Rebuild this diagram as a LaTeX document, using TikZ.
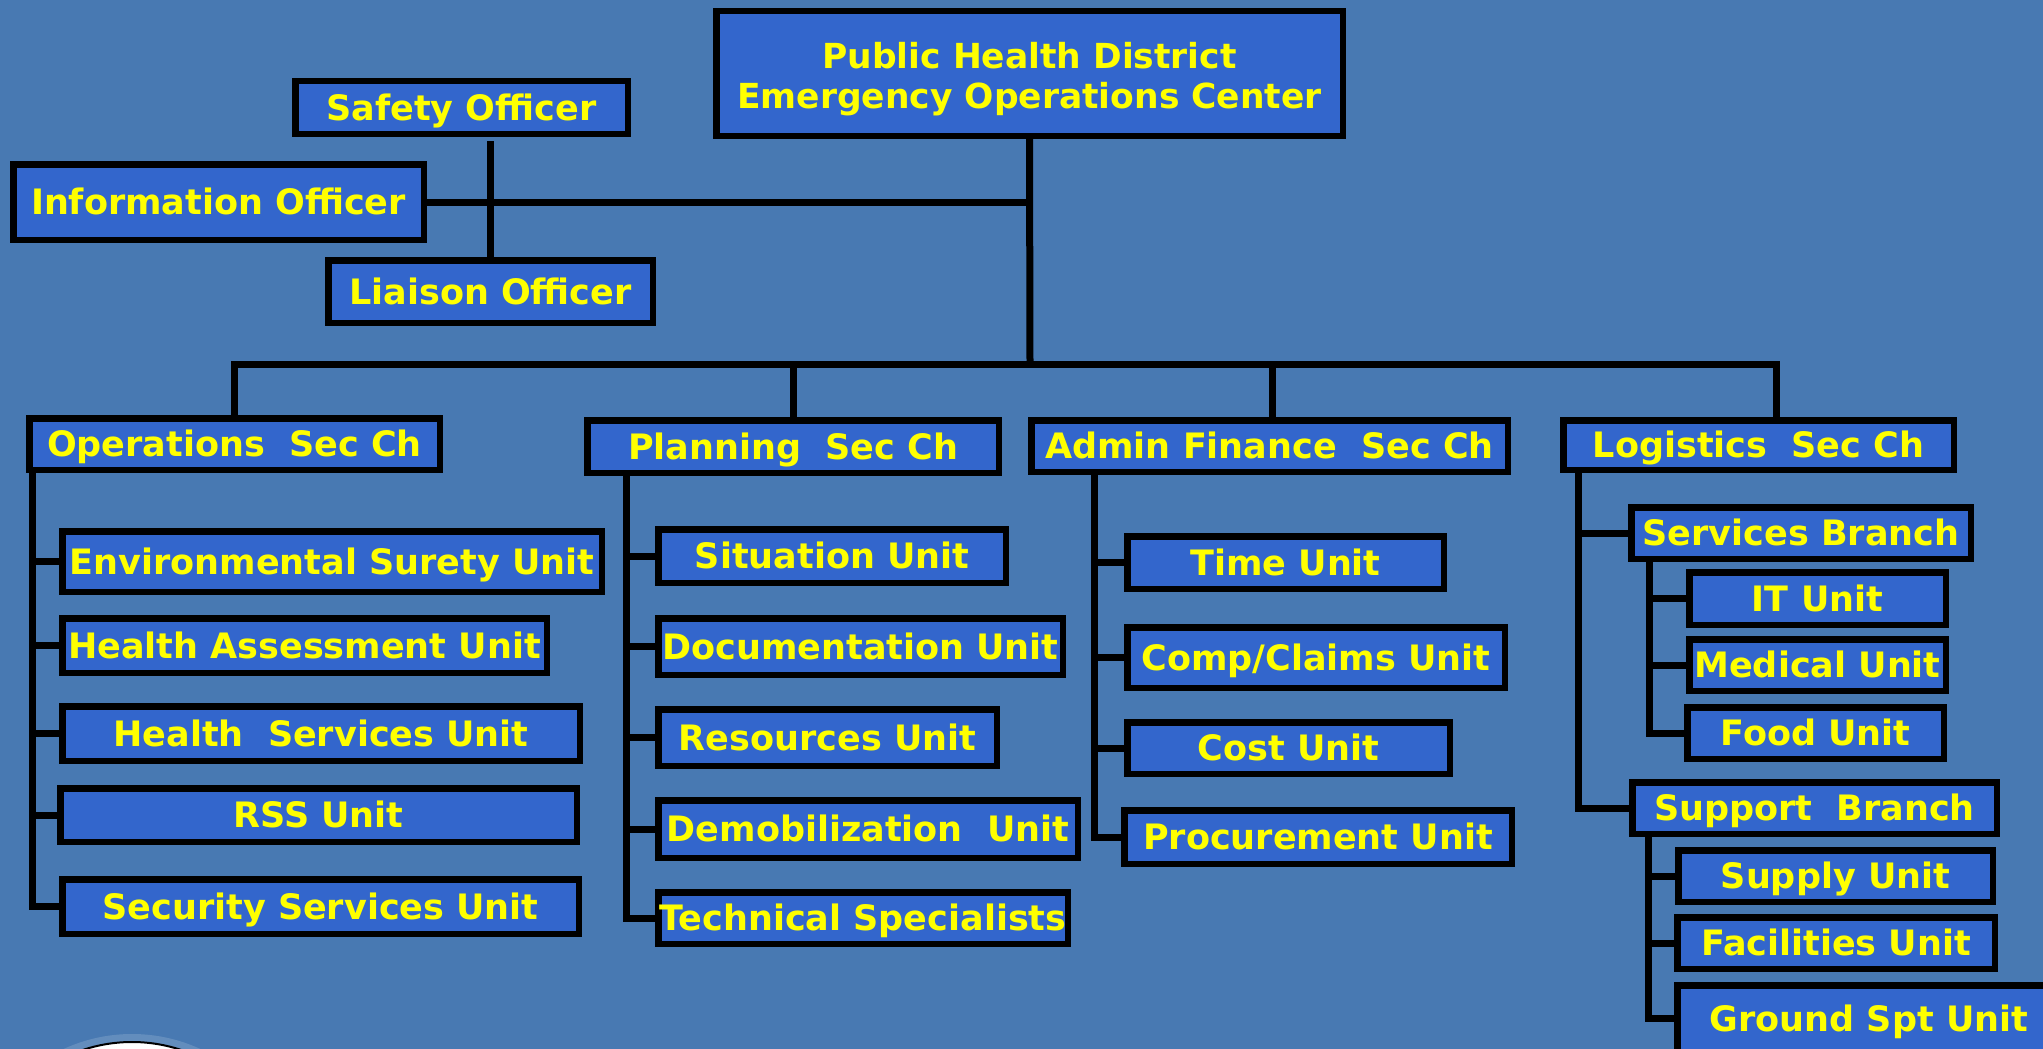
\documentclass[tikz,border=0pt]{standalone}
\usepackage{fontspec}
\setmainfont{DejaVu Sans}
\definecolor{bgblue}{RGB}{72,121,178}
\definecolor{boxblue}{RGB}{51,102,204}
\definecolor{txtyellow}{RGB}{255,255,0}
\tikzset{
  box/.style={draw=black, line width=6.5pt, fill=boxblue, text=txtyellow,
    font=\fontsize{35}{42}\selectfont\bfseries, inner sep=0pt, align=center,
    text height=28pt, text depth=2.5pt},
  conn/.style={draw=black, line width=7pt},
}
\newcommand\bx[7][]{\node[box,#1,minimum width={#5-#3-6.5},minimum height={#6-#4-6.5}] (#2) at ({(#3+#5)/2},{(#4+#6)/2}) {#7};}
\begin{document}
\begin{tikzpicture}[x=1pt,y=-1pt]
\useasboundingbox (0,0) rectangle (2043,1049);
\clip (0,0) rectangle (2043,1049);
\fill[bgblue] (0,0) rectangle (2043,1049);
% logo (partly visible)
\fill[bgblue!85!white] (132,1197) circle (163pt);
\filldraw[fill=white, draw=black, line width=2pt] (132,1197) circle (155pt);
% top
\bx[font=\fontsize{34.5}{40}\selectfont\bfseries, text height=, text depth=]{eoc}{713}{8}{1346}{139}{\rule{0pt}{37pt}Public Health District\\Emergency Operations Center}
\bx{safety}{292}{78}{631}{137}{Safety Officer}
\bx{info}{10}{161}{427}{243}{Information Officer}
\bx{liaison}{325}{257}{656}{326}{Liaison Officer}
% sections
\bx{ops}{26}{415}{443}{473}{Operations\ \ Sec Ch}
\bx{plan}{584}{417}{1002}{476}{Planning\ \ Sec Ch}
\bx{admin}{1028}{417}{1511}{475}{Admin Finance\ \ Sec Ch}
\bx{log}{1560}{417}{1957}{473}{Logistics\ \ Sec Ch}
% operations
\bx{env}{59}{528}{605}{595}{Environmental Surety Unit}
\bx{hassess}{59}{615}{550}{676}{Health Assessment Unit}
\bx{hserv}{59}{703}{583}{764}{Health\ \ Services Unit}
\bx{rss}{57}{785}{580}{845}{RSS Unit}
\bx{secur}{59}{876}{582}{937}{Security Services Unit}
% planning
\bx{sit}{655}{526}{1009}{586}{Situation Unit}
\bx{doc}{655}{615}{1066}{678}{Documentation Unit}
\bx{res}{655}{706}{1000}{769}{Resources Unit}
\bx{demob}{655}{797}{1081}{861}{Demobilization\ \ Unit}
\bx{tech}{655}{889}{1071}{947}{Technical Specialists}
% admin
\bx{time}{1124}{533}{1447}{592}{Time Unit}
\bx{comp}{1124}{624}{1508}{691}{Comp/Claims Unit}
\bx{cost}{1124}{719}{1453}{777}{Cost Unit}
\bx{proc}{1121}{807}{1515}{867}{Procurement Unit}
% logistics
\bx{servb}{1628}{504}{1974}{562}{Services Branch}
\bx{it}{1686}{569}{1949}{628}{IT Unit}
\bx{med}{1686}{636}{1949}{694}{Medical Unit}
\bx{food}{1684}{704}{1947}{762}{Food Unit}
\bx{suppb}{1629}{779}{2000}{837}{Support\ \ Branch}
\bx{supply}{1675}{847}{1996}{905}{Supply Unit}
\bx{facil}{1674}{914}{1998}{972}{Facilities Unit}
\bx{ground}{1674}{982}{2064}{1055}{Ground Spt Unit}
% connectors
\coordinate (bus) at (1030,364);
\draw[conn] (eoc.south) -- (bus);
\draw[conn] (ops.north) |- (bus);
\draw[conn] (plan.north) |- (bus);
\draw[conn] ([xshift=3pt]admin.north) |- (bus);
\draw[conn] ([xshift=17.5pt]log.north) |- (bus);
\draw[conn] (info.east) -- (info.east -| eoc.south);
\draw[conn] (liaison.north) -- ([yshift=-4pt]liaison.north |- safety.south);
\coordinate (opsS) at ([xshift=6.4pt]ops.south west);
\foreach \c in {env,hassess,hserv,rss,secur} \draw[conn] (opsS) |- (\c.west);
\coordinate (planS) at ([xshift=42.75pt]plan.south west);
\foreach \c in {sit,doc,res,demob,tech} \draw[conn] (planS) |- (\c.west);
\coordinate (adminS) at ([xshift=66pt]admin.south west);
\foreach \c in {time,comp,cost,proc} \draw[conn] (adminS) |- (\c.west);
\coordinate (logS) at ([xshift=18.75pt]log.south west);
\foreach \c in {servb,suppb} \draw[conn] (logS) |- (\c.west);
\coordinate (servS) at ([xshift=21.75pt]servb.south west);
\foreach \c in {it,med,food} \draw[conn] (servS) |- (\c.west);
\coordinate (suppS) at ([xshift=19.75pt]suppb.south west);
\foreach \c in {supply,facil,ground} \draw[conn] (suppS) |- (\c.west);
\end{tikzpicture}
\end{document}
